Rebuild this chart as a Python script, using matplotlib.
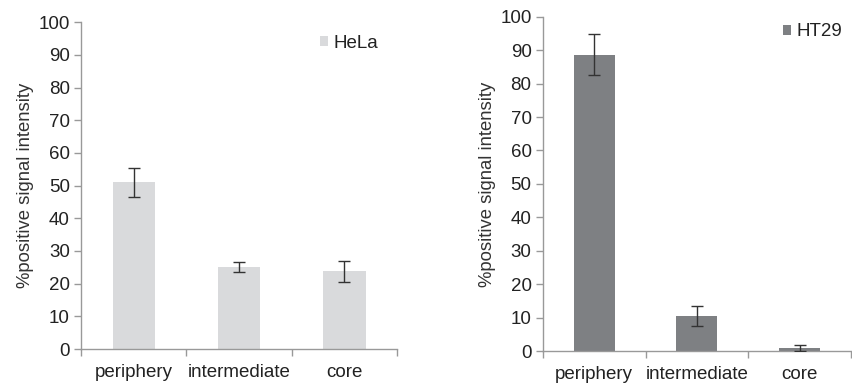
import matplotlib.pyplot as plt

categories = ["periphery", "intermediate", "core"]
hela_vals = [51.0, 25.0, 23.8]
hela_err = [4.4, 1.5, 3.2]
ht29_vals = [88.7, 10.5, 1.0]
ht29_err = [6.2, 2.9, 0.9]

plt.rcParams['font.family'] = ['Liberation Sans', 'DejaVu Sans']

fig = plt.figure(figsize=(8.52, 3.85), dpi=100)
ax1 = fig.add_axes([0.0951, 0.0935, 0.371, 0.849])
ax2 = fig.add_axes([0.637, 0.0883, 0.362, 0.868])

panels = [
    (ax1, hela_vals, hela_err, "#d9dadc", "HeLa", (0.755, 0.936)),
    (ax2, ht29_vals, ht29_err, "#7e8083", "HT29", (0.778, 0.955)),
]

for ax, vals, err, col, name, lpos in panels:
    x = range(len(categories))
    ax.bar(x, vals, width=0.4, color=col, label=name, zorder=2)
    ax.errorbar(x, vals, yerr=err, fmt="none", ecolor="#333333",
                elinewidth=1, capsize=4, capthick=1, zorder=3)
    ax.set_xlim(-0.5, 2.5)
    ax.set_ylim(0, 100)
    ax.set_yticks(range(0, 101, 10))
    ax.set_xticks(list(x))
    ax.set_xticklabels(categories, fontsize=13.5, color="#222222")
    ax.set_xticks([-0.5, 0.5, 1.5, 2.5], minor=True)
    ax.tick_params(axis="x", which="major", length=0, pad=11)
    ax.tick_params(axis="x", which="minor", length=5, color="#999999", width=1)
    ax.tick_params(axis="y", labelsize=13.5, labelcolor="#222222", length=5,
                   color="#999999", width=1, pad=3)
    for s in ["top", "right"]:
        ax.spines[s].set_visible(False)
    for s in ["left", "bottom"]:
        ax.spines[s].set_color("#999999")
        ax.spines[s].set_linewidth(1)
    ax.set_ylabel("%positive signal intensity", fontsize=13.3, color="#333333", labelpad=3)
    ax.legend(loc="center left", bbox_to_anchor=lpos, frameon=False, fontsize=13.5,
              handlelength=0.45, handleheight=0.45, handletextpad=0.3,
              borderpad=0, borderaxespad=0, labelcolor="#222222")

fig.savefig("out.png", dpi=100)
